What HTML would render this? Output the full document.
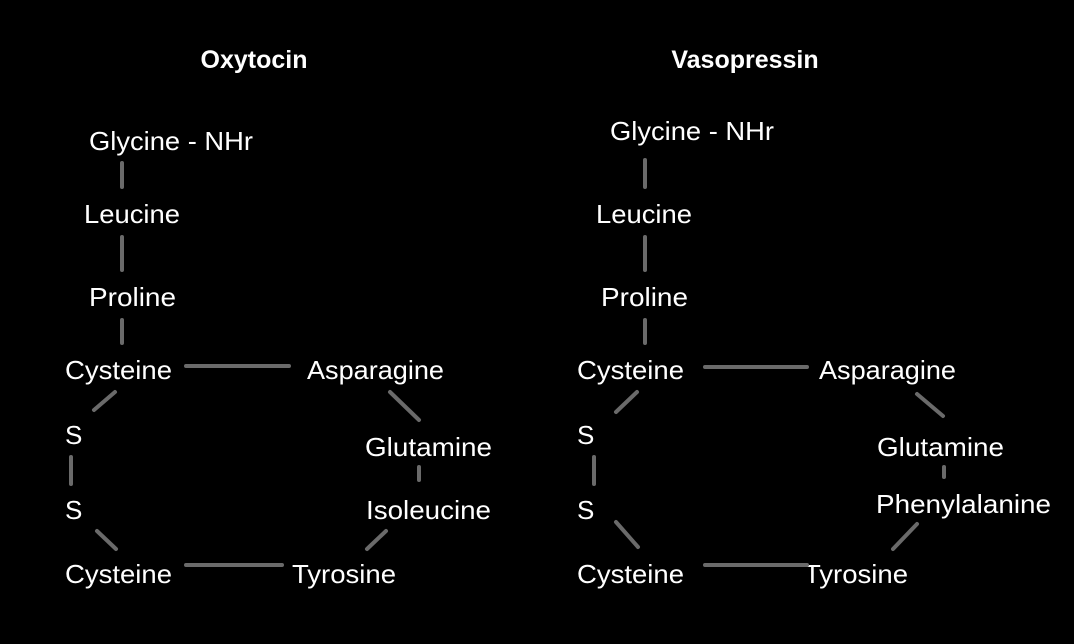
<!DOCTYPE html>
<html><head><meta charset="utf-8"><style>
html,body{margin:0;padding:0;background:#000;}
svg{display:block;}
text{font-family:"Liberation Sans",sans-serif;fill:#fff;}
</style></head><body>
<svg width="1074" height="644" viewBox="0 0 1074 644">
<g font-size="26" dominant-baseline="central">
<text x="254" y="60" text-anchor="middle" font-weight="bold" font-size="25">Oxytocin</text>
<text x="745" y="60" text-anchor="middle" font-weight="bold" font-size="25">Vasopressin</text>

<text x="89" y="141" textLength="164" lengthAdjust="spacingAndGlyphs">Glycine - NHr</text>
<text x="84" y="214" textLength="96" lengthAdjust="spacingAndGlyphs">Leucine</text>
<text x="89" y="297" textLength="87" lengthAdjust="spacingAndGlyphs">Proline</text>
<text x="65" y="370" textLength="107" lengthAdjust="spacingAndGlyphs">Cysteine</text>
<text x="307" y="370" textLength="137" lengthAdjust="spacingAndGlyphs">Asparagine</text>
<text x="65" y="435">S</text>
<text x="65" y="510">S</text>
<text x="365" y="447" textLength="127" lengthAdjust="spacingAndGlyphs">Glutamine</text>
<text x="366" y="510" textLength="125" lengthAdjust="spacingAndGlyphs">Isoleucine</text>
<text x="65" y="574" textLength="107" lengthAdjust="spacingAndGlyphs">Cysteine</text>
<text x="292" y="574" textLength="104" lengthAdjust="spacingAndGlyphs">Tyrosine</text>

<text x="610" y="131" textLength="164" lengthAdjust="spacingAndGlyphs">Glycine - NHr</text>
<text x="596" y="214" textLength="96" lengthAdjust="spacingAndGlyphs">Leucine</text>
<text x="601" y="297" textLength="87" lengthAdjust="spacingAndGlyphs">Proline</text>
<text x="577" y="370" textLength="107" lengthAdjust="spacingAndGlyphs">Cysteine</text>
<text x="819" y="370" textLength="137" lengthAdjust="spacingAndGlyphs">Asparagine</text>
<text x="577" y="435">S</text>
<text x="577" y="510">S</text>
<text x="877" y="447" textLength="127" lengthAdjust="spacingAndGlyphs">Glutamine</text>
<text x="876" y="504" textLength="175" lengthAdjust="spacingAndGlyphs">Phenylalanine</text>
<text x="577" y="574" textLength="107" lengthAdjust="spacingAndGlyphs">Cysteine</text>
<text x="804" y="574" textLength="104" lengthAdjust="spacingAndGlyphs">Tyrosine</text>
</g>
<g stroke="#6a6a6a" stroke-width="4" stroke-linecap="round" fill="none">
<line x1="122" y1="163" x2="122" y2="187"/>
<line x1="122" y1="237" x2="122" y2="270"/>
<line x1="122" y1="320" x2="122" y2="343"/>
<line x1="186" y1="366" x2="289" y2="366"/>
<line x1="115" y1="392" x2="94" y2="410"/>
<line x1="71" y1="457" x2="71" y2="484"/>
<line x1="97" y1="531" x2="116" y2="549"/>
<line x1="186" y1="565" x2="282" y2="565"/>
<line x1="386" y1="531" x2="367" y2="549"/>
<line x1="419" y1="467" x2="419" y2="480"/>
<line x1="390" y1="392" x2="419" y2="420"/>

<line x1="645" y1="160" x2="645" y2="187"/>
<line x1="645" y1="237" x2="645" y2="270"/>
<line x1="645" y1="320" x2="645" y2="343"/>
<line x1="705" y1="367" x2="807" y2="367"/>
<line x1="637" y1="392" x2="616" y2="412"/>
<line x1="594" y1="457" x2="594" y2="484"/>
<line x1="616" y1="522" x2="638" y2="547"/>
<line x1="705" y1="565" x2="807" y2="565"/>
<line x1="917" y1="524" x2="893" y2="549"/>
<line x1="944" y1="467" x2="944" y2="477"/>
<line x1="917" y1="394" x2="943" y2="416"/>
</g>
</svg>
</body></html>
